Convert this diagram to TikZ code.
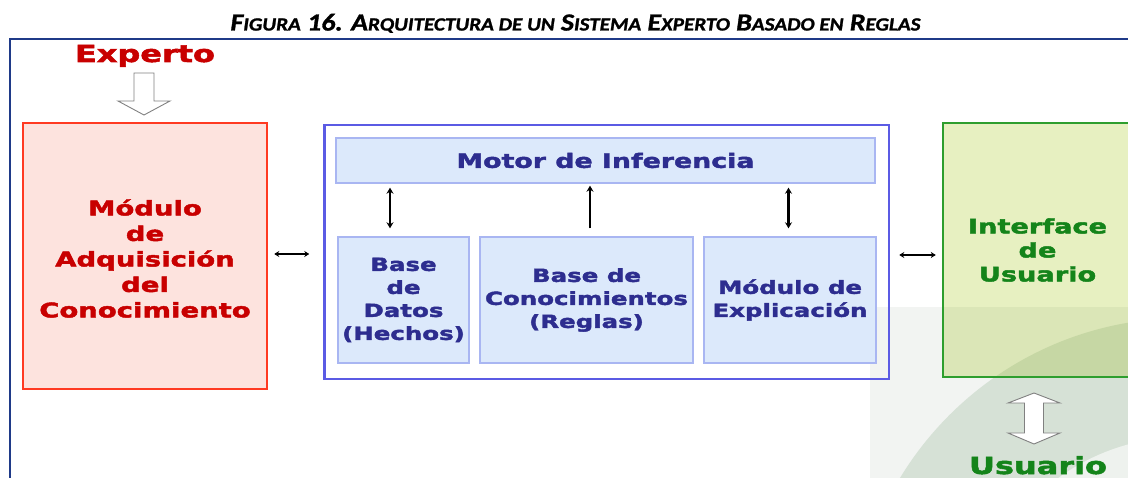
\documentclass[tikz,border=0pt]{standalone}
\usepackage{fontspec}
\usepackage{graphicx}
\usetikzlibrary{arrows.meta}
\newfontfamily\vb[FakeStretch=1.38, BoldFeatures={FakeStretch=1.36, FakeBold=2.2}]{DejaVu Sans}
\newfontfamily\tf[BoldItalicFeatures={FakeBold=1.2}]{Carlito}
\newcommand\SCx[1]{{\fontsize{18.6}{20}\selectfont #1}}
\definecolor{frame}{HTML}{1F3A88}
\definecolor{redtxt}{HTML}{C80000}
\definecolor{redbrd}{HTML}{FF3A22}
\definecolor{redfill}{HTML}{FDE3DE}
\definecolor{bluetxt}{HTML}{2D2D8F}
\definecolor{bluebrd}{HTML}{5B5BE4}
\definecolor{lbbrd}{HTML}{A9B6F2}
\definecolor{lbfill}{HTML}{DCE9FB}
\definecolor{grnbrd}{HTML}{2E9E2E}
\definecolor{grntxt}{HTML}{14841A}
\definecolor{grnfill}{HTML}{E7F0C1}
\definecolor{grnfillB}{HTML}{DBE6B7}
\definecolor{grnfillC}{HTML}{C6D7A4}
\definecolor{bggrey}{HTML}{F2F4F2}
\definecolor{bgsage}{HTML}{D6E1D6}
\definecolor{bglight}{HTML}{EEF2EE}
\definecolor{hollow}{HTML}{808080}
\begin{document}
\begin{tikzpicture}[x=1pt,y=-1pt,
  >={Stealth[length=6pt,width=7pt]},
  redbox/.style={draw=redbrd, fill=redfill, line width=2.5pt, inner sep=0pt},
  bigbox/.style={draw=bluebrd, line width=2.5pt, inner sep=0pt},
  lbox/.style={draw=lbbrd, fill=lbfill, line width=1.4pt, inner sep=0pt, align=center,
    text=bluetxt, font=\vb\bfseries\fontsize{18}{23}\selectfont},
  grnbox/.style={fill=grnfill, inner sep=0pt, align=center,
    text=grntxt, font=\vb\bfseries\fontsize{20}{24}\selectfont},
  varr/.style={line width=2.3pt, black},
  harr/.style={line width=1.5pt, black, >={Stealth[length=5pt,width=6pt]}},
  hollowarrow/.style={draw=hollow, fill=white, line width=0.9pt, line join=miter}]
\useasboundingbox (0,0) rectangle (1128,478);

% background decoration
\begin{scope}
  \clip (870,307) rectangle (1130,480);
  \fill[bggrey] (870,307) rectangle (1130,480);
  \fill[bgsage] (1184,650) circle[radius=332pt];
  \fill[bglight] (1184,650) circle[radius=213pt];
\end{scope}

% title
\node[anchor=base] (title) at (575.5,30.5) {\resizebox{690pt}{\height}{\tf\bfseries\itshape\fontsize{24.5}{26}\selectfont
  F\SCx{IGURA} 16. A\SCx{RQUITECTURA DE UN} S\SCx{ISTEMA} E\SCx{XPERTO} B\SCx{ASADO EN} R\SCx{EGLAS}}};

% frame
\draw[frame, line width=1.6pt] (10,480) -- (10,39) -- (1130,39);

% boxes
\node[redbox, minimum width=244pt, minimum height=266pt] (red) at (145,256) {};
\node[text=redtxt, font=\vb\bfseries\fontsize{20.2}{25.5}\selectfont, align=center, inner sep=0pt] (redtext) at (145,258.5)
  {Módulo\\de\\Adquisición\\del\\Conocimiento};
\node[bigbox, minimum width=564.5pt, minimum height=254pt] (big) at (606.75,252) {};
\node[lbox, minimum width=539pt, minimum height=45pt, font=\vb\bfseries\fontsize{19.7}{24}\selectfont] (motor) at (605.5,160.5) {Motor de Inferencia};
\node[lbox, minimum width=131pt, minimum height=126pt] (bd) at (403.5,300) {Base\\de\\Datos\\(Hechos)};
\node[lbox, minimum width=213pt, minimum height=126pt] (bc) at (586.5,300) {Base de\\Conocimientos\\(Reglas)};
\node[lbox, minimum width=172pt, minimum height=126pt] (me) at (790,300) {Módulo de\\Explicación};

\node[grnbox, minimum width=189pt, minimum height=254pt] (ui) at (1037.5,250) {Interface\\de\\Usuario};
\begin{scope}
  \clip (ui.north west) rectangle (ui.south east);
  \fill[grnfillB] (870,307) rectangle (1140,480);
  \fill[grnfillC] (1184,650) circle[radius=332pt];
\end{scope}
\draw[grnbrd, line width=2.5pt] (ui.north west) rectangle (ui.south east);

% labels
\node[anchor=base, text=redtxt, font=\vb\bfseries\fontsize{23.5}{28}\selectfont] (exp) at (145,62) {Experto};
\node[anchor=base, text=grntxt, font=\vb\bfseries\fontsize{23.5}{28}\selectfont] (usr) at (1038,474) {Usuario};

% hollow arrows
\draw[hollowarrow] (134,73) -- (154,73) -- (154,101) -- (170,101) -- (144,115) -- (118,101) -- (134,101) -- cycle;
\draw[hollowarrow] (1034,393) -- (1060,403) -- (1043.5,403) -- (1043.5,433) -- (1060,433) -- (1034,444)
  -- (1008,433) -- (1024.5,433) -- (1024.5,403) -- (1008,403) -- cycle;

% connectors
\draw[harr, <->, shorten <=6pt, shorten >=14pt] ([yshift=2pt]red.east) -- ([yshift=2pt]red.east -| big.west);
\draw[harr, <->, shorten <=9pt, shorten >=7pt] ([yshift=-3pt]big.east) -- ([yshift=-3pt]big.east -| ui.west);
\draw[varr, <->, shorten <=8pt, shorten >=4pt] ([xshift=-13.5pt]bd.north) -- ([xshift=-13.5pt]bd.north |- motor.south);
\draw[varr, ->, shorten <=8pt, shorten >=2pt] ([xshift=3.5pt]bc.north) -- ([xshift=3.5pt]bc.north |- motor.south);
\draw[varr, <->, shorten <=8pt, shorten >=4pt] ([xshift=-1.5pt]me.north) -- ([xshift=-1.5pt]me.north |- motor.south);
\end{tikzpicture}
\end{document}
